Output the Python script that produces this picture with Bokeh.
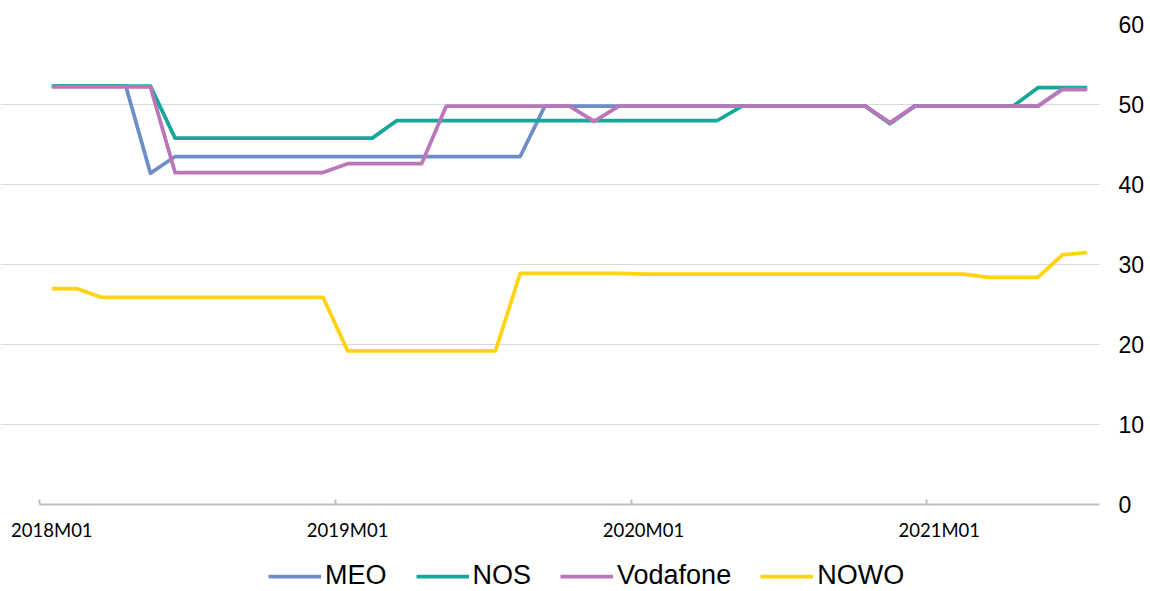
from bokeh.plotting import figure
from bokeh.models import (Range1d, FixedTicker, Legend, LegendItem, ColumnDataSource)
from bokeh.embed import file_html
from bokeh.resources import INLINE

# ---- data ----
months = [f"{y}M{m:02d}" for y in (2018, 2019, 2020, 2021) for m in range(1, 13)][:43]
tick_labels = ["2018M01", "2019M01", "2020M01", "2021M01"]
y_ticks = [0, 10, 20, 30, 40, 50, 60]

meo = [52.3, 52.3, 52.3, 52.3, 41.4,
       43.5, 43.5, 43.5, 43.5, 43.5, 43.5, 43.5, 43.5, 43.5, 43.5, 43.5, 43.5, 43.5, 43.5, 43.5,
       49.8, 49.8, 49.8, 49.8, 49.8, 49.8, 49.8, 49.8, 49.8, 49.8, 49.8, 49.8, 49.8, 49.8,
       47.7, 49.8, 49.8, 49.8, 49.8, 49.8, 49.8, 51.9, 51.9]
nos = [52.3, 52.3, 52.3, 52.3, 52.3,
       45.8, 45.8, 45.8, 45.8, 45.8, 45.8, 45.8, 45.8, 45.8,
       48.0, 48.0, 48.0, 48.0, 48.0, 48.0, 48.0, 48.0, 48.0, 48.0, 48.0, 48.0, 48.0, 48.0,
       49.8, 49.8, 49.8, 49.8, 49.8, 49.8,
       47.6, 49.8, 49.8, 49.8, 49.8, 49.8, 52.1, 52.1, 52.1]
vodafone = [52.2, 52.2, 52.2, 52.2, 52.2,
            41.5, 41.5, 41.5, 41.5, 41.5, 41.5, 41.5,
            42.6, 42.6, 42.6, 42.6,
            49.8, 49.8, 49.8, 49.8, 49.8, 49.8, 47.9,
            49.8, 49.8, 49.8, 49.8, 49.8, 49.8, 49.8, 49.8, 49.8, 49.8, 49.8,
            47.7, 49.8, 49.8, 49.8, 49.8, 49.8, 49.8, 51.9, 51.9]
nowo = [27.0, 27.0,
        25.9, 25.9, 25.9, 25.9, 25.9, 25.9, 25.9, 25.9, 25.9, 25.9,
        19.2, 19.2, 19.2, 19.2, 19.2, 19.2, 19.2,
        28.9, 28.9, 28.9, 28.9, 28.9,
        28.8, 28.8, 28.8, 28.8, 28.8, 28.8, 28.8, 28.8, 28.8, 28.8, 28.8, 28.8, 28.8, 28.8,
        28.4, 28.4, 28.4, 31.2, 31.5]

series = [("MEO", meo, "#6e8ec8"), ("NOS", nos, "#17a69a"),
          ("Vodafone", vodafone, "#bb76b9"), ("NOWO", nowo, "#ffd310")]

idx = list(range(len(months)))
n = len(months)
x_lo, x_hi = -0.5, n - 0.5

# frame spans the full height and reaches the left edge; the value axis keeps
# 8 px per unit, with room below zero for the category labels and the legend
px_per_cat = 1060 / n
p = figure(width=1150, height=591, output_backend="svg", toolbar_location=None,
           x_range=Range1d(x_lo - 39 / px_per_cat, x_hi), y_range=Range1d(-10.875, 60),
           y_axis_location="right",
           min_border_left=0, min_border_top=24, min_border_right=51, min_border_bottom=0)
p.outline_line_color = None
p.background_fill_color = "white"
p.border_fill_color = "white"

renderers = []
for name, vals, col in series:
    src = ColumnDataSource(dict(x=idx, y=vals, month=months))
    r = p.line("x", "y", source=src, line_color=col, line_width=3.75, line_join="round")
    renderers.append((name, r))

# x axis: labels at category centers, tick marks at boundaries, drawn at y = 0
label_pos = [months.index(t) for t in tick_labels]
xax = p.xaxis[0]
xax.fixed_location = 0
xax.bounds = (x_lo, x_hi)
xax.ticker = FixedTicker(ticks=label_pos, minor_ticks=[i - 0.5 for i in label_pos])
xax.major_label_overrides = {i: t for i, t in zip(label_pos, tick_labels)}
xax.major_tick_line_color = None
xax.major_tick_in = 0
xax.major_tick_out = 0
xax.minor_tick_in = 5
xax.minor_tick_out = 0
xax.minor_tick_line_color = "#bfbfbf"
xax.minor_tick_line_width = 2
xax.axis_line_color = "#bfbfbf"
xax.axis_line_width = 2
xax.major_label_standoff = 14
xax.major_label_text_font = "Lato"
xax.major_label_text_font_size = "18.5px"
xax.major_label_text_color = "#000000"
p.xgrid.grid_line_color = None

yax = p.yaxis[0]
yax.ticker = FixedTicker(ticks=y_ticks)
yax.axis_line_color = None
yax.major_tick_line_color = None
yax.minor_tick_line_color = None
yax.major_tick_out = 0
yax.major_label_standoff = 19
yax.major_label_text_font = "Liberation Sans"
yax.major_label_text_font_size = "23px"
yax.major_label_text_color = "#000000"
p.ygrid.ticker = FixedTicker(ticks=y_ticks[1:])
p.ygrid.bounds = (x_lo, x_hi)
p.ygrid.grid_line_color = "#d9d9d9"
p.ygrid.grid_line_width = 1

legend = Legend(items=[LegendItem(label=nm, renderers=[r]) for nm, r in renderers],
                orientation="horizontal", location=(268, 0),
                glyph_width=53, glyph_height=20, label_standoff=4, spacing=29,
                padding=0, margin=0, border_line_color=None, background_fill_alpha=0,
                label_text_font="Liberation Sans", label_text_font_size="27px",
                label_text_color="#000000")
p.add_layout(legend, "center")

open("out.html", "w").write(file_html(p, INLINE))
